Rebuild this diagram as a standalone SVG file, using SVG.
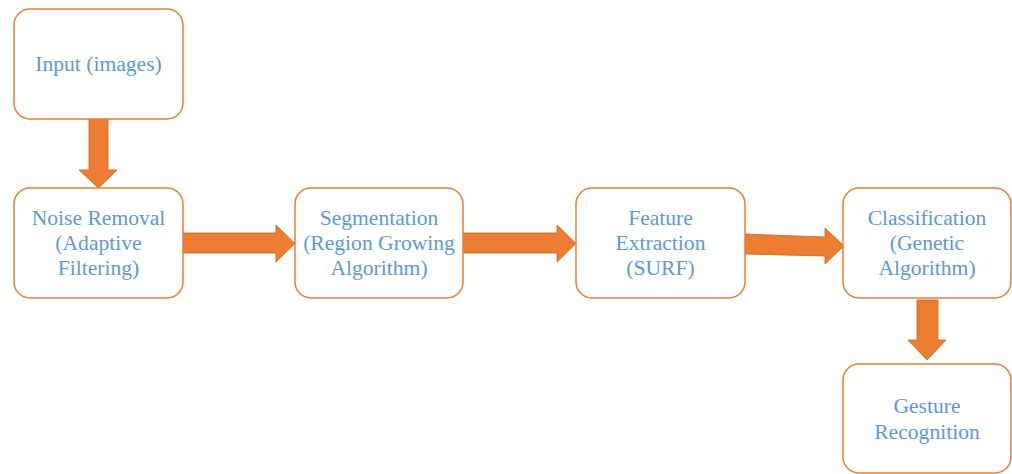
<svg xmlns="http://www.w3.org/2000/svg" width="1012" height="474" viewBox="0 0 1012 474">
<style>
.box{fill:#fff;stroke:#ED7D31;stroke-width:1.5}
.arr{fill:#ED7D31;stroke:#C8651F;stroke-width:0.8}
.t{font-family:"Liberation Serif","Times New Roman",serif;font-size:21.6px;fill:#5B9BD5;text-anchor:middle}
</style>
<rect width="1012" height="474" fill="#fff"/>
<g id="connectors">
<path class="arr" d="M89,119 H108 V170 H117 L98.5,188 L79,170 H89 Z"/>
<path class="arr" d="M183,233 H276 V225 L295,243.5 L276,262 V253 H183 Z"/>
<path class="arr" d="M463,233 H557 V225 L576,243.5 L557,262 V253 H463 Z"/>
<path class="arr" d="M745,234 L825,237 V228 L844,246 L825,264 V256 L745,254 Z"/>
<path class="arr" d="M917,300 H938 V340 H946 L927,360 L908,340 H917 Z"/>
</g>
<g id="input">
<rect class="box" x="14" y="9" width="169" height="110" rx="16"/>
<text class="t" x="98.5" y="71">Input (images)</text>
</g>
<g id="noise">
<rect class="box" x="14" y="188" width="169" height="110" rx="16"/>
<text class="t" x="98.5" y="225">Noise Removal</text>
<text class="t" x="98.5" y="250">(Adaptive</text>
<text class="t" x="98.5" y="275">Filtering)</text>
</g>
<g id="segmentation">
<rect class="box" x="295" y="188" width="168" height="110" rx="16"/>
<text class="t" x="379" y="225">Segmentation</text>
<text class="t" x="379" y="250">(Region Growing</text>
<text class="t" x="379" y="275">Algorithm)</text>
</g>
<g id="feature">
<rect class="box" x="576" y="188" width="169" height="110" rx="16"/>
<text class="t" x="660.5" y="225">Feature</text>
<text class="t" x="660.5" y="250">Extraction</text>
<text class="t" x="660.5" y="275">(SURF)</text>
</g>
<g id="classification">
<rect class="box" x="843" y="188" width="168" height="110" rx="16"/>
<text class="t" x="927" y="225">Classification</text>
<text class="t" x="927" y="250">(Genetic</text>
<text class="t" x="927" y="275">Algorithm)</text>
</g>
<g id="gesture">
<rect class="box" x="843" y="364" width="168" height="109" rx="16"/>
<text class="t" x="927" y="413">Gesture</text>
<text class="t" x="927" y="439">Recognition</text>
</g>
</svg>
